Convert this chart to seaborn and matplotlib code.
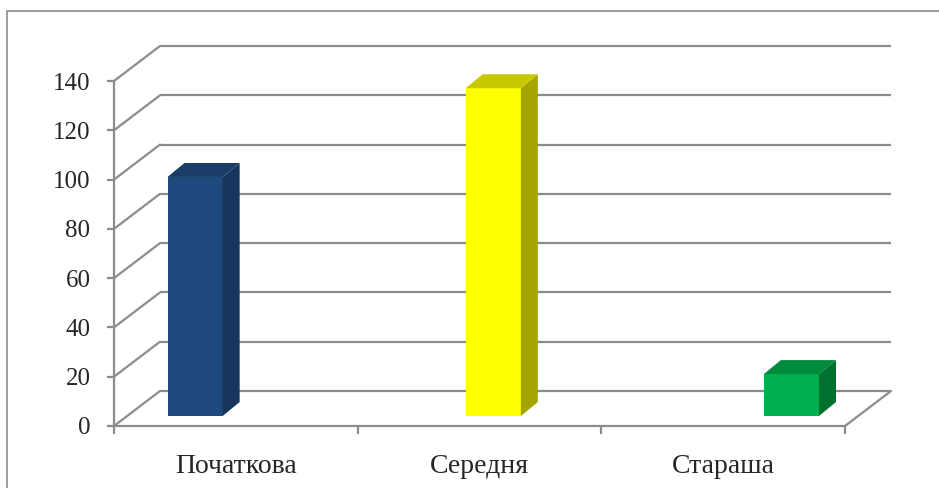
#!/usr/bin/env python3
import matplotlib
matplotlib.use("Agg")
import matplotlib.pyplot as plt
import matplotlib.transforms as mtransforms
from matplotlib.patches import Polygon, Rectangle
from matplotlib.lines import Line2D
import seaborn as sns

# data
CATEGORIES = ["Початкова", "Середня", "Стараша"]
VALUES = [97, 133, 17]
YTICKS = [0, 20, 40, 60, 80, 100, 120, 140]

# styles
FRONT = ["#1F497D", "#FFFF00", "#00B050"]
SIDE = ["#17365D", "#A5A500", "#00702F"]
TOP = ["#1A3C66", "#C8C800", "#008A3C"]
GRID = "#8C8C8C"
FONT = "Liberation Serif"
FS_Y = 18
FS_X = 20

W, H = 939, 488
DPI = 100
WALL_DX, WALL_DY = 46, 35     # depth of the back wall, pixels
BAR_DX, BAR_DY = 17, 14       # depth of each bar, pixels


def px_box(x0, y_bottom, x1, y_top):
    # pixel box (top-left origin) -> figure fraction rect
    return [x0 / W, (H - y_bottom) / H, (x1 - x0) / W, (y_bottom - y_top) / H]


def main():
    sns.set_style("white")
    plt.rcParams['font.family'] = [FONT, 'DejaVu Sans']

    fig = plt.figure(figsize=(W / DPI, H / DPI), dpi=DPI)
    ident = mtransforms.IdentityTransform()

    # outer frame of the chart area
    fig.patches.append(Rectangle((7 / W, -0.1), 2, (H - 10.5) / H + 0.1,
                                 transform=fig.transFigure, fill=False,
                                 edgecolor="#8C8C8C", lw=1.2))

    # front plane: axes, ticks and labels
    ax = fig.add_axes(px_box(114, 426, 845, 81))
    ax.set_xlim(-0.5, 2.5)
    ax.set_ylim(0, 140)
    ax.patch.set_alpha(0)
    for s in ("top", "right"):
        ax.spines[s].set_visible(False)
    for s in ("left", "bottom"):
        ax.spines[s].set_color(GRID)
        ax.spines[s].set_linewidth(1.6)
    ax.set_yticks(YTICKS)
    ax.set_yticklabels([str(v) for v in YTICKS], fontsize=FS_Y, family=FONT)
    ax.tick_params(axis='y', length=5, width=1.6, color=GRID, pad=12,
                   left=True)
    ax.set_xticks([-0.5, 0.5, 1.5, 2.5])
    ax.set_xticklabels([])
    ax.set_xticks(range(len(CATEGORIES)), minor=True)
    ax.set_xticklabels(CATEGORIES, minor=True, fontsize=FS_X, family=FONT)
    ax.tick_params(axis='x', which='major', length=6, width=1.6, color=GRID,
                   bottom=True)
    ax.tick_params(axis='x', which='minor', length=0, pad=20)

    # back wall, side wall and floor
    back = ax.transData + mtransforms.ScaledTranslation(
        WALL_DX / DPI, WALL_DY / DPI, fig.dpi_scale_trans)
    for v in YTICKS:
        ax.plot([-0.5, 2.5], [v, v], transform=back, color=GRID, lw=1.6,
                clip_on=False, solid_capstyle='butt')
        p0 = ax.transData.transform((-0.5, v))
        p1 = back.transform((-0.5, v))
        fig.lines.append(Line2D([p0[0], p1[0]], [p0[1], p1[1]],
                                transform=ident, color=GRID, lw=1.6))
    p0 = ax.transData.transform((2.5, 0))
    p1 = back.transform((2.5, 0))
    fig.lines.append(Line2D([p0[0], p1[0]], [p0[1], p1[1]],
                            transform=ident, color=GRID, lw=1.6))

    # bars sit in their own plane a little behind the front axis
    ax_bar = fig.add_axes(px_box(46, 416, 940.5, 71))
    sns.barplot(x=CATEGORIES, y=VALUES, hue=CATEGORIES, palette=FRONT,
                saturation=1, width=0.185, legend=False, ax=ax_bar,
                linewidth=0)
    ax_bar.set_xlim(-0.5, 2.5)
    ax_bar.set_ylim(0, 140)
    ax_bar.axis("off")

    for i, bar in enumerate(ax_bar.patches):
        x0, x1 = bar.get_x(), bar.get_x() + bar.get_width()
        h = bar.get_height()
        (ax0, ay0), (ax1, ay1) = ax_bar.transData.transform([(x0, 0), (x1, h)])
        side = [(ax1, ay0), (ax1 + BAR_DX, ay0 + BAR_DY),
                (ax1 + BAR_DX, ay1 + BAR_DY), (ax1, ay1)]
        top = [(ax0, ay1), (ax1, ay1), (ax1 + BAR_DX, ay1 + BAR_DY),
               (ax0 + BAR_DX, ay1 + BAR_DY)]
        ax_bar.add_patch(Polygon(side, closed=True, transform=ident,
                                 facecolor=SIDE[i], edgecolor='none',
                                 clip_on=False))
        ax_bar.add_patch(Polygon(top, closed=True, transform=ident,
                                 facecolor=TOP[i], edgecolor='none',
                                 clip_on=False))

    fig.savefig("out.png", dpi=DPI, facecolor="white")
    plt.close()


if __name__ == '__main__':
    main()
